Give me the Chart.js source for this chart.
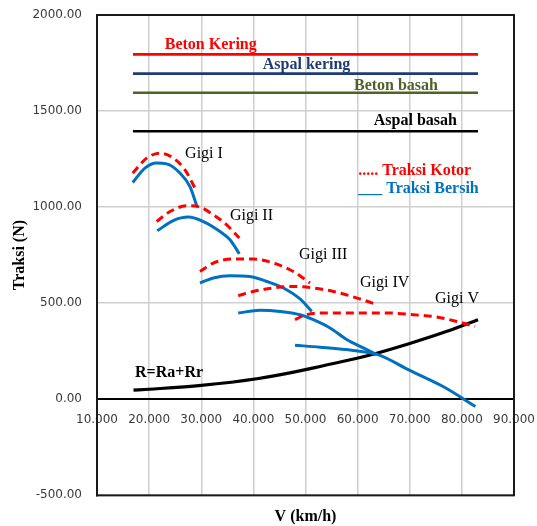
<!DOCTYPE html>
<html>
<head>
<meta charset="utf-8">
<script src="https://cdn.jsdelivr.net/npm/chart.js@4.4.1/dist/chart.umd.min.js"></script>
<style>
  html, body { margin: 0; padding: 0; background: #ffffff; }
  #wrap { width: 537px; height: 526px; }
</style>
</head>
<body>
<div id="wrap"><canvas id="c" width="537" height="526"></canvas></div>
<script>
// Road surface traction limits (N), drawn as flat lines over the speed range
const roadNames = ['Beton Kering', 'Aspal kering', 'Beton basah', 'Aspal basah'];
const roadTraction = [1795, 1695, 1595, 1395];
const roadColors = ['#ff0000', '#1f3a78', '#4f6228', '#000000'];
const roadSpeedRange = [16.9, 83.1];

// Gross traction (Traksi Kotor) per gear: speed (km/h) and force (N)
const kotorI_v = [16.85, 19.53, 22.09, 24.64, 26.88, 29.13];
const kotorI_n = [1177, 1255, 1281, 1255, 1194, 1081];
const kotorII_v = [21.45, 24.0, 27.2, 29.76, 32.31, 34.88, 37.3];
const kotorII_n = [925, 977, 1007, 1000, 960, 908, 839];
const kotorIII_v = [29.76, 32.31, 36.15, 39.99, 43.82, 47.66, 50.86];
const kotorIII_n = [665, 709, 730, 730, 709, 665, 605];
const kotorIV_v = [37.1, 39.99, 43.82, 47.66, 51.5, 55.34, 60.46, 63.33];
const kotorIV_n = [539, 561, 579, 587, 579, 561, 522, 496];
const kotorV_v = [47.99, 49.58, 52.78, 59.17, 65.58, 70.68, 75.17, 79.0, 82.52];
const kotorV_n = [414, 435, 449, 449, 449, 440, 428, 405, 379];

// Net traction (Traksi Bersih) per gear
const bersihI_v = [16.85, 19.2, 21.45, 23.37, 25.92, 27.84, 29.13];
const bersihI_n = [1128, 1203, 1229, 1225, 1177, 1107, 1007];
const bersihII_v = [21.57, 24.64, 27.52, 30.4, 33.6, 35.52, 37.3];
const bersihII_n = [877, 930, 948, 925, 873, 830, 757];
const bersihIII_v = [29.76, 32.31, 35.52, 39.35, 42.56, 45.76, 48.95, 51.19];
const bersihIII_n = [605, 631, 643, 639, 613, 579, 522, 457];
const bersihIV_v = [37.1, 41.27, 45.1, 48.95, 51.5, 54.7, 57.9, 61.09, 63.66];
const bersihIV_n = [449, 463, 457, 440, 414, 371, 311, 267, 232];
const bersihV_v = [47.99, 52.78, 59.17, 63.9, 70.0, 76.4, 82.6];
const bersihV_n = [281, 271, 254, 232, 150, 66, -38];

// Total resistance R = Ra + Rr
const resist_v = [17, 20, 30, 41, 47, 53, 62.4, 70, 77, 83.1];
const resist_n = [47, 52, 72, 108, 137, 172, 230, 290, 352, 414];

// Axis ranges
const speedTicks = [10, 20, 30, 40, 50, 60, 70, 80, 90];
const forceTicks = [-500, 0, 500, 1000, 1500, 2000];

// Text annotations placed in data coordinates (speed, force)
const notes = [
  { text: 'Beton Kering', v: 23.0, n: 1821, color: '#ff0000', bold: true },
  { text: 'Aspal kering', v: 41.8, n: 1717, color: '#1f3a78', bold: true },
  { text: 'Beton basah', v: 59.3, n: 1610, color: '#4f6228', bold: true },
  { text: 'Aspal basah', v: 63.1, n: 1428, color: '#000000', bold: true },
  { text: '..... Traksi Kotor', v: 60.1, n: 1168, color: '#ff0000', bold: true },
  { text: '___ Traksi Bersih', v: 60.1, n: 1073, color: '#0070c0', bold: true },
  { text: 'Gigi I', v: 26.9, n: 1256, color: '#000000', bold: false },
  { text: 'Gigi II', v: 35.5, n: 934, color: '#000000', bold: false },
  { text: 'Gigi III', v: 48.75, n: 731, color: '#000000', bold: false },
  { text: 'Gigi IV', v: 60.45, n: 586, color: '#000000', bold: false },
  { text: 'Gigi V', v: 74.85, n: 503, color: '#000000', bold: false },
  { text: 'R=Ra+Rr', v: 17.3, n: 118, color: '#000000', bold: true }
];

const pts = (xs, ys) => xs.map((x, i) => ({ x: x, y: ys[i] }));

const datasets = [];
roadTraction.forEach((val, i) => {
  datasets.push({
    label: roadNames[i],
    data: pts(roadSpeedRange, [val, val]),
    borderColor: roadColors[i],
    borderWidth: 2.6
  });
});

const kotor = [[kotorI_v, kotorI_n], [kotorII_v, kotorII_n], [kotorIII_v, kotorIII_n], [kotorIV_v, kotorIV_n], [kotorV_v, kotorV_n]];
const bersih = [[bersihI_v, bersihI_n], [bersihII_v, bersihII_n], [bersihIII_v, bersihIII_n], [bersihIV_v, bersihIV_n], [bersihV_v, bersihV_n]];

kotor.forEach(([xs, ys], i) => {
  datasets.push({
    label: 'Traksi Kotor ' + (i + 1),
    data: pts(xs, ys),
    borderColor: '#ff0000',
    borderWidth: 3,
    borderDash: [8, 5],
    cubicInterpolationMode: 'monotone'
  });
});
bersih.forEach(([xs, ys], i) => {
  datasets.push({
    label: 'Traksi Bersih ' + (i + 1),
    data: pts(xs, ys),
    borderColor: '#0070c0',
    borderWidth: 3,
    cubicInterpolationMode: 'monotone'
  });
});
datasets.push({
  label: 'R=Ra+Rr',
  data: pts(resist_v, resist_n),
  borderColor: '#000000',
  borderWidth: 3.2,
  cubicInterpolationMode: 'monotone'
});

// Outer frame around the plot area
const framePlugin = {
  id: 'frame',
  beforeDatasetsDraw(chart) {
    const { ctx, chartArea: a } = chart;
    ctx.save();
    ctx.strokeStyle = '#1a1a1a';
    ctx.lineWidth = 2;
    ctx.strokeRect(a.left, a.top, a.right - a.left, a.bottom - a.top);
    ctx.restore();
  }
};

// Curve names and road labels
const notesPlugin = {
  id: 'notes',
  afterDatasetsDraw(chart) {
    const { ctx, scales: { x, y } } = chart;
    ctx.save();
    ctx.textAlign = 'left';
    ctx.textBaseline = 'alphabetic';
    notes.forEach(nt => {
      ctx.font = (nt.bold ? 'bold ' : '') + '16px "Liberation Serif", "Times New Roman", serif';
      ctx.fillStyle = nt.color;
      ctx.fillText(nt.text, x.getPixelForValue(nt.v), y.getPixelForValue(nt.n));
    });
    ctx.restore();
  }
};

new Chart(document.getElementById('c'), {
  type: 'scatter',
  data: { datasets: datasets },
  options: {
    responsive: false,
    animation: false,
    showLine: true,
    elements: { point: { radius: 0, hoverRadius: 0 }, line: { fill: false } },
    layout: { padding: { top: 15, right: 23, bottom: 0, left: 0 } },
    plugins: {
      legend: { display: false },
      tooltip: { enabled: false },
      title: {
        display: true,
        text: 'V (km/h)',
        position: 'bottom',
        fullSize: false,
        align: 'center',
        color: '#000000',
        font: { family: '"Liberation Serif", "Times New Roman", serif', size: 16, weight: 'bold' },
        padding: { top: 11.5, bottom: 0 }
      }
    },
    scales: {
      x: {
        type: 'linear',
        position: { y: 0 },
        min: speedTicks[0],
        max: speedTicks[speedTicks.length - 1],
        afterBuildTicks: s => { s.ticks = speedTicks.map(v => ({ value: v })); },
        afterFit: s => { s.height = 0; s.paddingLeft = 0; s.paddingRight = 0; },
        ticks: {
          callback: v => Number(v).toFixed(3),
          color: '#3a3a3a',
          font: { family: '"DejaVu Sans", sans-serif', size: 12 },
          padding: 13,
          maxRotation: 0,
          autoSkip: false
        },
        grid: { color: '#cfcfcf', lineWidth: 1.5, drawTicks: false },
        border: { display: true, color: '#000000', width: 2 }
      },
      y: {
        type: 'linear',
        position: 'left',
        min: forceTicks[0],
        max: forceTicks[forceTicks.length - 1],
        afterBuildTicks: s => { s.ticks = forceTicks.map(v => ({ value: v })); },
        afterFit: s => { s.width = 97; s.paddingTop = 0; s.paddingBottom = 0; },
        ticks: {
          callback: v => Number(v).toFixed(2),
          color: '#3a3a3a',
          font: { family: '"DejaVu Sans", sans-serif', size: 12 },
          padding: 15
        },
        grid: { color: '#cfcfcf', lineWidth: 1.5, drawTicks: false },
        border: { display: true, color: '#1a1a1a', width: 2 },
        title: {
          display: true,
          text: 'Traksi (N)',
          color: '#000000',
          font: { family: '"Liberation Serif", "Times New Roman", serif', size: 16, weight: 'bold' },
          padding: { top: 10, bottom: 0 }
        }
      }
    }
  },
  plugins: [framePlugin, notesPlugin]
});
</script>
</body>
</html>
